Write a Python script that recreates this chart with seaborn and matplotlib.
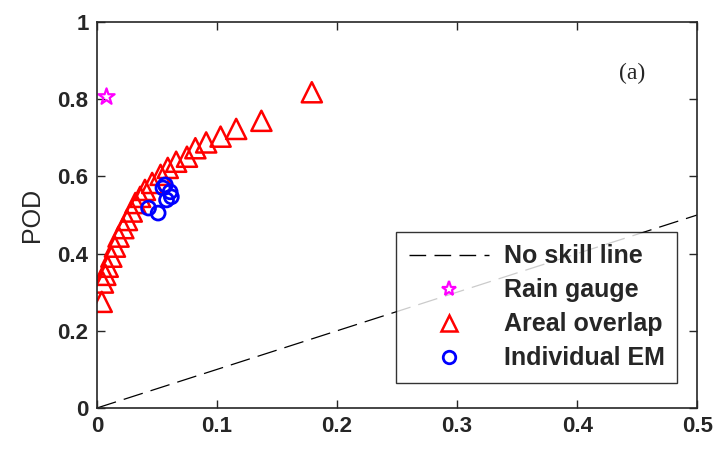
import pandas as pd
import matplotlib.pyplot as plt
import seaborn as sns
from matplotlib.lines import Line2D

# data (FAR on x, POD on y)
areal_far = [0.004, 0.005, 0.007, 0.009, 0.012, 0.015, 0.018, 0.022, 0.025, 0.029,
             0.032, 0.036, 0.040, 0.046, 0.053, 0.059, 0.066, 0.075, 0.082, 0.091,
             0.103, 0.116, 0.137, 0.179]
areal_pod = [0.275, 0.325, 0.345, 0.366, 0.392, 0.418, 0.444, 0.466, 0.487, 0.509,
             0.531, 0.547, 0.565, 0.583, 0.604, 0.622, 0.638, 0.651, 0.673, 0.688,
             0.703, 0.723, 0.744, 0.818]

em_far = [0.043, 0.051, 0.055, 0.057, 0.058, 0.061, 0.062]
em_pod = [0.518, 0.505, 0.570, 0.578, 0.539, 0.560, 0.547]

gauge_far = [0.008]
gauge_pod = [0.806]

noskill_x = [0.0, 0.5]
noskill_y = [0.0, 0.5]

areal = pd.DataFrame({'FAR': areal_far, 'POD': areal_pod})
em = pd.DataFrame({'FAR': em_far, 'POD': em_pod})
gauge = pd.DataFrame({'FAR': gauge_far, 'POD': gauge_pod})
noskill = pd.DataFrame({'FAR': noskill_x, 'POD': noskill_y})

sns.set_style('ticks')
plt.rcParams['font.family'] = ['Liberation Sans', 'DejaVu Sans']

fig = plt.figure(figsize=(7.18, 4.49), dpi=100)
ax = fig.add_axes([0.135, 0.0913, 0.836, 0.8597])

dash = (0, (16, 6.5))
sns.lineplot(data=noskill, x='FAR', y='POD', ax=ax, color='black', lw=0.9,
             linestyle=dash)
sns.scatterplot(data=areal, x='FAR', y='POD', ax=ax, marker='^', s=210,
                facecolor='none', edgecolor='red', linewidth=1.8)
sns.scatterplot(data=em, x='FAR', y='POD', ax=ax, marker='o', s=100,
                facecolor='none', edgecolor='blue', linewidth=2.0)
sns.scatterplot(data=gauge, x='FAR', y='POD', ax=ax, marker='*', s=150,
                facecolor='none', edgecolor='magenta', linewidth=1.6)

ax.set_xlim(0, 0.5)
ax.set_ylim(0, 1)
ax.set_xticks([0, 0.1, 0.2, 0.3, 0.4, 0.5])
ax.set_xticklabels(['0', '0.1', '0.2', '0.3', '0.4', '0.5'])
ax.set_yticks([0, 0.2, 0.4, 0.6, 0.8, 1])
ax.set_yticklabels(['0', '0.2', '0.4', '0.6', '0.8', '1'])
ax.tick_params(direction='in', length=6, width=1, top=True, right=True,
               labelsize=16, pad=6)
for lab in ax.get_xticklabels() + ax.get_yticklabels():
    lab.set_fontweight('bold')
for sp in ax.spines.values():
    sp.set_visible(True)
    sp.set_linewidth(1.2)
ax.set_xlabel('')
ax.set_ylabel('POD', fontsize=18, labelpad=10)

ax.text(0.446, 0.868, '(a)', fontsize=17, family='Liberation Serif',
        ha='center', va='center')

# legend
handles = [
    Line2D([], [], color='black', lw=1.0, linestyle=(0, (12, 6))),
    Line2D([], [], marker='*', ls='none', mfc='none', mec='magenta', ms=11, mew=1.6),
    Line2D([], [], marker='^', ls='none', mfc='none', mec='red', ms=11, mew=1.8),
    Line2D([], [], marker='o', ls='none', mfc='none', mec='blue', ms=9, mew=2.0),
]
labels = ['No skill line', 'Rain gauge', 'Areal overlap', 'Individual EM']
leg = ax.legend(handles, labels, loc='lower right', bbox_to_anchor=(0.967, 0.065),
                prop={'weight': 'bold', 'size': 18}, frameon=True, fancybox=False,
                edgecolor='black', handlelength=3.2, labelspacing=0.4,
                borderpad=0.5, handletextpad=0.6, borderaxespad=0)
leg.get_frame().set_linewidth(1.0)

plt.savefig('out.png', dpi=100)
